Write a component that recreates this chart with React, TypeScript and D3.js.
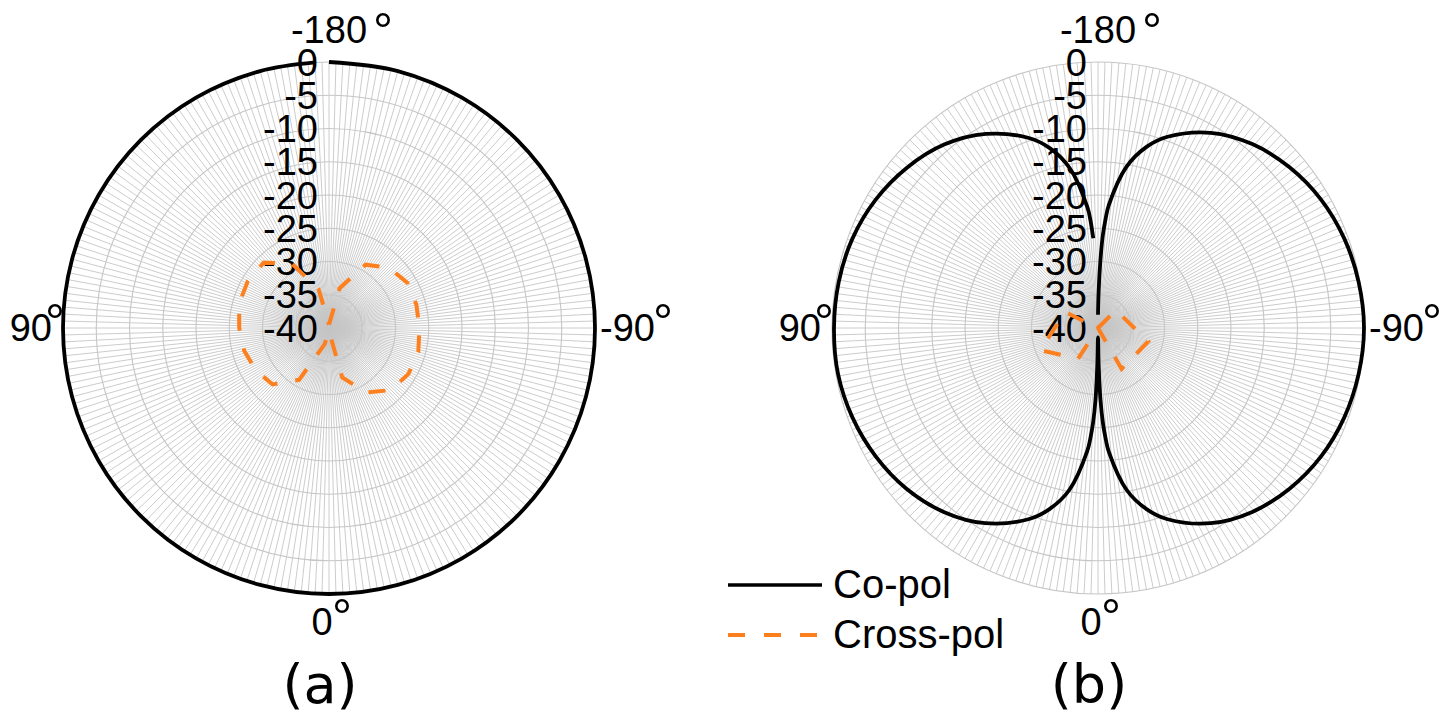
import React from 'react'
import * as d3 from 'd3'

const WIDTH = 1452
const HEIGHT = 715
const RADIUS = 266

// radial axis (dB) and angular labels
const radialTicks = [0, -5, -10, -15, -20, -25, -30, -35, -40]
const angleLabels = { top: '-180', left: '90', bottom: '0', right: '-90' }
const captions = ['(a)', '(b)']
const legendLabels = ['Co-pol', 'Cross-pol']

// (a) co-pol: flat 0 dB ring (open near the top)
const coPolAAngles = [-180, -165, -150, -135, -120, -105, -90, -75, -60, -45, -30, -15, 0, 15, 30, 45, 60, 75, 90, 105, 120, 135, 150, 165, 177]
const coPolAValues = [0, 0, 0, 0, 0, 0, 0, 0, 0, 0, 0, 0, 0, 0, 0, 0, 0, 0, 0, 0, 0, 0, 0, 0, 0]

// (a) cross-pol
const crossPolAAngles = [-180, -165, -150, -135, -120, -105, -90, -75, -60, -45, -30, -15, 0, 15, 30, 45, 60, 75, 90, 105, 120, 135, 150, 165, 180]
const crossPolAValues = [-39.5, -33.8, -29, -27.2, -26.4, -26.4, -26.4, -26.1, -26.2, -26.8, -28.8, -32.3, -39.5, -37.5, -31, -28, -27.3, -26.8, -26.5, -26, -25.9, -26.1, -28.8, -34, -39.5]

// (b) co-pol
const coPolBAngles = [-180, -179, -178, -177, -176, -175, -170, -165, -160, -150, -140, -130, -120, -110, -100, -90, -80, -70, -60, -50, -40, -30, -20, -15, -10, -5, -4, -3, -2, -1, 0, 1, 2, 3, 4, 5, 10, 15, 20, 30, 40, 50, 60, 70, 80, 90, 100, 110, 120, 130, 140, 150, 160, 165, 170, 175, 176, 177]
const coPolBValues = [-38, -34.5, -30, -26, -23.5, -21.5, -15.4, -11.8, -9.4, -6.1, -3.9, -2.4, -1.3, -0.6, -0.2, 0, -0.2, -0.6, -1.3, -2.4, -3.9, -6.1, -9.4, -11.8, -15.3, -21.3, -23.2, -25.6, -29.1, -34.5, -38.6, -34.8, -29.2, -25.7, -23.3, -21.4, -15.3, -11.8, -9.4, -6.1, -3.9, -2.4, -1.4, -0.7, -0.3, -0.3, -0.4, -0.7, -1.4, -2.5, -4, -6.3, -9.6, -12, -15.6, -21.8, -23.8, -26.5]

// (b) cross-pol
const crossPolBAngles = [-180, -135, -75, -30, 0, 33, 69, 116, 180]
const crossPolBValues = [-40, -36.2, -32.2, -32.9, -40, -34.5, -30.7, -34.5, -40]

const ORANGE = '#fd7f1e'
const GRID = '#c6c6c6'
const FONT = "'Liberation Sans', Arial, sans-serif"

const rScale = d3.scaleLinear().domain([-40, 0]).range([0, RADIUS]).clamp(true)
// 0 deg at the bottom, 90 on the left, -180 at the top
const aScale = d3.scaleLinear().domain([-180, 180]).range([0, 2 * Math.PI])

const zip = (angles, values) => angles.map((d, i) => [d, values[i]])

const radial = d3.lineRadial()
  .angle(d => aScale(d[0]))
  .radius(d => rScale(d[1]))

function PolarPanel ({ cx, cy, coAngles, coValues, crossAngles, crossValues, caption, coCurve, crossCurve }) {
  const spokes = d3.range(0, 360, 1.5).map(t => {
    const rad = t * Math.PI / 180
    return 'M0,0L' + (RADIUS * Math.sin(rad)).toFixed(2) + ',' + (-RADIUS * Math.cos(rad)).toFixed(2)
  }).join('')

  const coPath = radial.curve(coCurve)(zip(coAngles, coValues))
  const crossPath = radial.curve(crossCurve)(zip(crossAngles, crossValues))

  return (
    <g transform={`translate(${cx},${cy})`}>
      <path d={spokes} stroke={GRID} strokeWidth={0.9} fill='none' />
      {radialTicks.filter(t => t > -40).map(t => (
        <circle key={t} r={rScale(t)} fill='none' stroke={GRID} strokeWidth={1.1} />
      ))}
      {radialTicks.map(t => (
        <text key={'l' + t} x={-11} y={-rScale(t) + 13.5} textAnchor='end'
          fontFamily={FONT} fontSize={38} fill='#000'>{t}</text>
      ))}
      <text x={0} y={-cy + 43} textAnchor='middle' fontFamily={FONT} fontSize={38}>{angleLabels.top}</text>
      <text x={44} y={-cy + 48} fontFamily={FONT} fontSize={50}>°</text>
      <text x={-RADIUS - 11} y={13} textAnchor='end' fontFamily={FONT} fontSize={38}>{angleLabels.left}</text>
      <text x={-RADIUS - 18} y={11} fontFamily={FONT} fontSize={50}>°</text>
      <text x={RADIUS + 5} y={13} fontFamily={FONT} fontSize={38}>{angleLabels.right}</text>
      <text x={RADIUS + 58} y={11} fontFamily={FONT} fontSize={50}>°</text>
      <text x={-7} y={307} textAnchor='middle' fontFamily={FONT} fontSize={38}>{angleLabels.bottom}</text>
      <text x={3} y={306} fontFamily={FONT} fontSize={50}>°</text>
      <path d={coPath} fill='none' stroke='#000' strokeWidth={3.8} />
      <path d={crossPath} fill='none' stroke={ORANGE} strokeWidth={4} strokeDasharray='17 18' />
      <text x={-9} y={375} textAnchor='middle' fontFamily="'DejaVu Sans', Verdana, sans-serif" fontSize={54}>{caption}</text>
    </g>
  )
}

export default function App () {
  return (
    <svg width={WIDTH} height={HEIGHT} style={{ position: 'absolute', left: 0, top: 0, background: '#fff' }}>
      <rect width={WIDTH} height={HEIGHT} fill='#fff' />
      <PolarPanel cx={329} cy={328}
        coAngles={coPolAAngles} coValues={coPolAValues}
        crossAngles={crossPolAAngles} crossValues={crossPolAValues}
        coCurve={d3.curveCatmullRom} crossCurve={d3.curveLinear}
        caption={captions[0]} />
      <PolarPanel cx={1098} cy={328}
        coAngles={coPolBAngles} coValues={coPolBValues}
        crossAngles={crossPolBAngles} crossValues={crossPolBValues}
        coCurve={d3.curveCatmullRom.alpha(0.5)} crossCurve={d3.curveLinear}
        caption={captions[1]} />
      <g>
        <line x1={728} x2={822} y1={585} y2={585} stroke='#000' strokeWidth={3.6} />
        <text x={833} y={598} fontFamily={FONT} fontSize={40}>{legendLabels[0]}</text>
        <line x1={728} x2={818} y1={635} y2={635} stroke={ORANGE} strokeWidth={4} strokeDasharray='17 19' />
        <text x={833} y={648} fontFamily={FONT} fontSize={40}>{legendLabels[1]}</text>
      </g>
    </svg>
  )
}
